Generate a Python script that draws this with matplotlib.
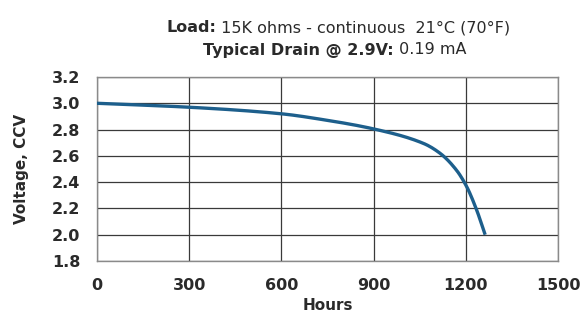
import matplotlib
matplotlib.use("Agg")
import matplotlib.pyplot as plt
import numpy as np

hours = [0, 300, 600, 737, 900, 1062, 1116, 1170, 1203, 1235, 1263]
volts = [3.00, 2.97, 2.92, 2.875, 2.805, 2.695, 2.62, 2.49, 2.365, 2.19, 2.00]
x_ticks = [0, 300, 600, 900, 1200, 1500]
y_ticks = [1.8, 2.0, 2.2, 2.4, 2.6, 2.8, 3.0, 3.2]
title1 = [("Load:", True), (" 15K ohms - continuous  21°C (70°F)", False)]
title2 = [("Typical Drain @ 2.9V:", True), (" 0.19 mA", False)]

W, H = 585, 325
fig = plt.figure(figsize=(W/100, H/100), dpi=100)
ax = fig.add_axes([97/W, 1-261/H, (558-97)/W, (261-77)/H])

xs = np.array(hours, float); ys = np.array(volts, float)
def pchip(x, y, xn):
    h = np.diff(x); d = np.diff(y)/h
    m = np.zeros_like(y)
    for k in range(1, len(y)-1):
        if d[k-1]*d[k] <= 0:
            m[k] = 0
        else:
            w1 = 2*h[k]+h[k-1]; w2 = h[k]+2*h[k-1]
            m[k] = (w1+w2)/(w1/d[k-1]+w2/d[k])
    m[0] = d[0]; m[-1] = d[-1]
    out = np.empty_like(xn)
    for i, xv in enumerate(xn):
        k = min(np.searchsorted(x, xv, side='right')-1, len(x)-2)
        t = (xv-x[k])/h[k]
        h00 = 2*t**3-3*t**2+1; h10 = t**3-2*t**2+t
        h01 = -2*t**3+3*t**2; h11 = t**3-t**2
        out[i] = h00*y[k]+h10*h[k]*m[k]+h01*y[k+1]+h11*h[k]*m[k+1]
    return out
xn = np.linspace(xs[0], xs[-1], 400)
ax.plot(xn, pchip(xs, ys, xn), color="#1d5f8c", lw=2.4, solid_capstyle="butt", zorder=3)

ax.set_xlim(0, 1500)
ax.set_ylim(1.8, 3.2)
ax.set_xticks(x_ticks)
ax.set_yticks(y_ticks)
ax.set_xticklabels([str(v) for v in x_ticks], fontweight="bold", fontsize=11.5, color="#2a2a2a")
ax.set_yticklabels([f"{v:.1f}" for v in y_ticks], fontweight="bold", fontsize=11.5, color="#2a2a2a")
ax.tick_params(axis='x', length=0, pad=12)
ax.tick_params(axis='y', length=0, pad=12)
ax.grid(True, color="#3a3a3a", lw=0.9)
for s in ax.spines.values():
    s.set_color("#8a8a8a"); s.set_linewidth(1.0)
ax.set_xlabel("Hours", fontweight="bold", fontsize=11, color="#2a2a2a", labelpad=4)
ax.set_ylabel("Voltage, CCV", fontweight="bold", fontsize=11, color="#2a2a2a")
ax.yaxis.set_label_coords(-(97-29)/(558-97), 0.5)

fig.canvas.draw()
r = fig.canvas.get_renderer()
def line(parts, cx, cy, fs):
    texts = []
    for s, b in parts:
        t = fig.text(0, cy/H, s, fontsize=fs, fontweight="bold" if b else "normal",
                     color="#2a2a2a", va="center", ha="left", transform=fig.transFigure)
        texts.append(t)
    widths = [t.get_window_extent(r).width for t in texts]
    x0 = cx - sum(widths)/2
    for t, w in zip(texts, widths):
        t.set_x(x0/W)
        x0 += w
line(title1, 338, H-28, 11.5)
line(title2, 335, H-50, 11.5)

fig.savefig("out.png", dpi=100, facecolor="white")
